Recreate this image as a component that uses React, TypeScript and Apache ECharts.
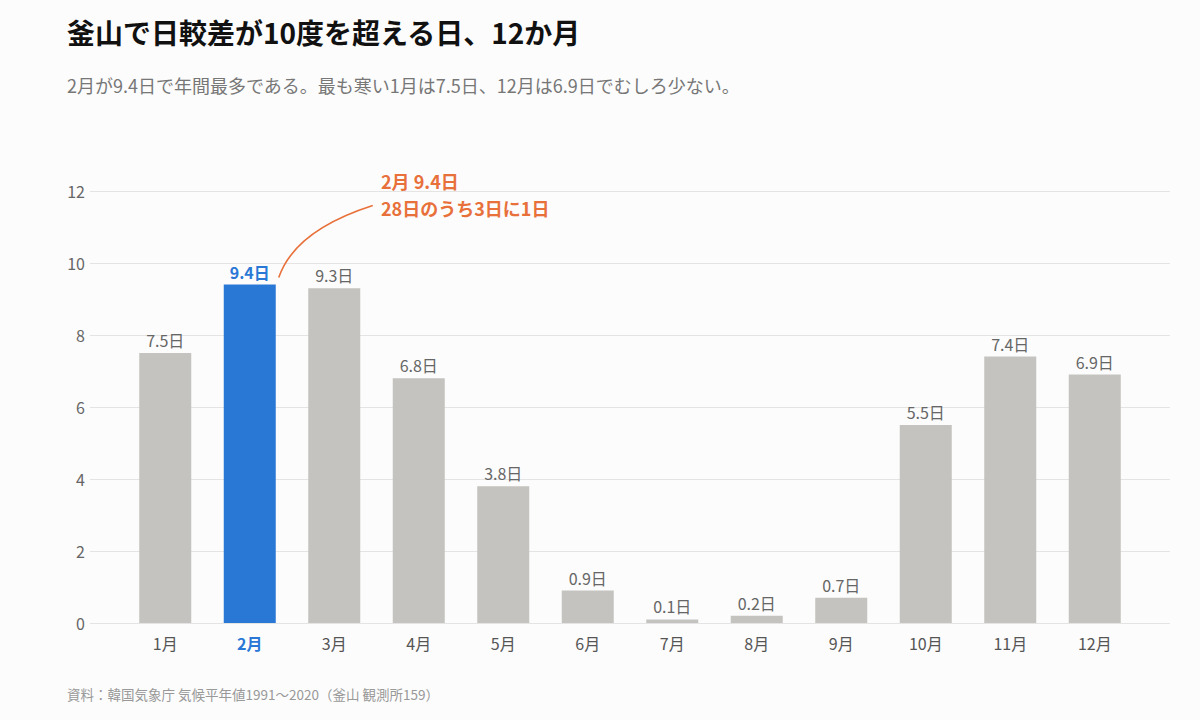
import { useEffect, useRef } from 'react'
import * as echarts from 'echarts'

const months = ['1月', '2月', '3月', '4月', '5月', '6月', '7月', '8月', '9月', '10月', '11月', '12月']
const daysOver10 = [7.5, 9.4, 9.3, 6.8, 3.8, 0.9, 0.1, 0.2, 0.7, 5.5, 7.4, 6.9]
const highlightMonth = '2月'
const yTicks = [0, 2, 4, 6, 8, 10, 12]

const FONT = '"Noto Sans CJK JP", "Noto Sans", sans-serif'
const GRAY = '#c4c3bf'
const BLUE = '#2a78d6'
const ORANGE = '#e8703a'

export default function App() {
  const containerRef = useRef<HTMLDivElement | null>(null)

  useEffect(() => {
    if (!containerRef.current) return
    const chart = echarts.init(containerRef.current, undefined, { renderer: 'svg' })
    const hi = months.indexOf(highlightMonth)

    chart.setOption({
      animation: false,
      backgroundColor: '#fcfcfc',
      textStyle: { fontFamily: FONT },
      title: [
        {
          text: '釜山で日較差が10度を超える日、12か月',
          left: 62,
          top: 13,
          textStyle: { fontSize: 28, fontWeight: 'bold', color: '#111', fontFamily: FONT },
        },
        {
          text: '2月が9.4日で年間最多である。最も寒い1月は7.5日、12月は6.9日でむしろ少ない。',
          left: 62,
          top: 71,
          textStyle: { fontSize: 18, fontWeight: 'normal', color: '#777', fontFamily: FONT },
        },
        {
          text: '資料：韓国気象庁 気候平年値1991〜2020（釜山 観測所159）',
          left: 62,
          top: 682,
          textStyle: { fontSize: 13.5, fontWeight: 'normal', color: '#999', fontFamily: FONT },
        },
      ],
      grid: [
        { left: 90, right: 30, top: 191, bottom: 97 },
        { left: 123, right: 63, top: 191, bottom: 97 },
      ],
      xAxis: [
        { type: 'value', gridIndex: 0, show: false, min: 0, max: 1 },
        {
          type: 'category',
          gridIndex: 1,
          data: months,
          axisLine: { show: false },
          axisTick: { show: false },
          axisLabel: {
            margin: 12,
            fontSize: 16,
            color: '#555',
            fontFamily: FONT,
            formatter: (v: string) => (v === highlightMonth ? `{hi|${v}}` : v),
            rich: { hi: { color: BLUE, fontWeight: 'bold', fontSize: 16, fontFamily: FONT } },
          },
        },
      ],
      yAxis: [
        {
          type: 'value',
          gridIndex: 0,
          min: yTicks[0],
          max: yTicks[yTicks.length - 1],
          interval: 2,
          axisLine: { show: false },
          axisTick: { show: false },
          axisLabel: { margin: 5, fontSize: 16, color: '#666', fontFamily: FONT },
          splitLine: { lineStyle: { color: '#e4e4e4', width: 1 } },
        },
        {
          type: 'value',
          gridIndex: 1,
          min: yTicks[0],
          max: yTicks[yTicks.length - 1],
          interval: 2,
          show: false,
          splitLine: { show: false },
        },
      ],
      series: [
        {
          type: 'bar',
          xAxisIndex: 1,
          yAxisIndex: 1,
          barWidth: 52,
          data: daysOver10.map((v, i) => ({
            value: v,
            itemStyle: { color: i === hi ? BLUE : GRAY },
            label:
              i === hi
                ? { color: BLUE, fontWeight: 'bold' }
                : { color: '#666', fontWeight: 'normal' },
          })),
          label: {
            show: true,
            position: 'top',
            distance: 5,
            fontSize: 16,
            fontFamily: FONT,
            formatter: (p: any) => `${p.value}日`,
          },
        },
      ],
    })

    // annotation curve from the top-right of the highlighted bar
    const top = chart.convertToPixel({ xAxisIndex: 1, yAxisIndex: 1 }, [hi, daysOver10[hi]]) as number[]
    const sx = top[0] + 29
    const sy = top[1] - 7
    chart.setOption({
      graphic: [
        {
          type: 'bezierCurve',
          shape: { x1: sx, y1: sy, cpx1: sx + 16, cpy1: sy - 47, x2: sx + 94, y2: sy - 72 },
          style: { stroke: ORANGE, lineWidth: 1.6, fill: 'none' },
          silent: true,
        },
        {
          type: 'text',
          left: 381,
          top: 167,
          style: {
            text: '2月 9.4日\n28日のうち3日に1日',
            fill: ORANGE,
            font: `bold 18px ${FONT}`,
            lineHeight: 27,
          },
        },
      ],
    })

    return () => chart.dispose()
  }, [])

  return (
    <div
      ref={containerRef}
      style={{ position: 'absolute', left: 0, top: 0, width: 1200, height: 720 }}
    />
  )
}
